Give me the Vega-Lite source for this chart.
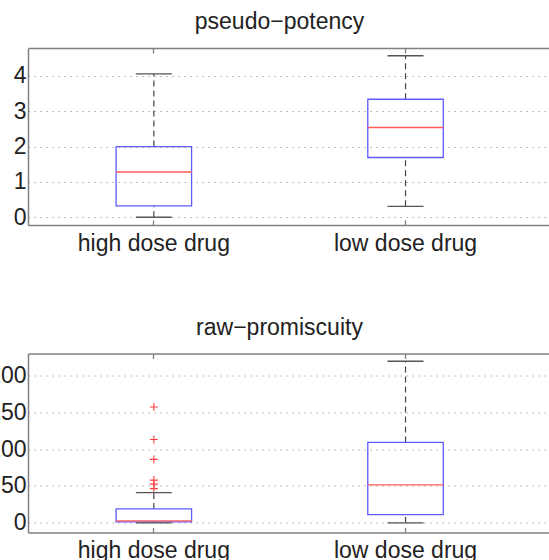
{
  "$schema": "https://vega.github.io/schema/vega-lite/v6.json",
  "padding": {"left": -13, "top": 11, "right": 0, "bottom": -2},
  "spacing": 61.5,
  "config": {
    "font": "Liberation Sans",
    "view": {"stroke": null},
    "axis": {
      "labelFont": "Liberation Sans",
      "labelFontSize": 23,
      "labelColor": "#222222",
      "domainColor": "#808080",
      "domainWidth": 1.5,
      "gridColor": "#aaaaaa",
      "gridDash": [1.5, 4.5],
      "gridWidth": 1,
      "tickColor": "#808080",
      "tickWidth": 1.3
    },
    "axisY": {"grid": true, "ticks": false, "labelPadding": 2, "domain": true},
    "axisX": {"grid": false, "ticks": true, "tickSize": -5, "labelPadding": 12, "domain": true, "labelAngle": 0},
    "title": {"font": "Liberation Sans", "fontSize": 23, "fontWeight": "normal", "color": "#222222", "offset": 13, "dx": -9, "frame": "group"}
  },
  "vconcat": [
    {
      "title": "pseudo−potency",
      "width": 521,
      "height": 177,
      "data": {"values": [
        {"group": "high dose drug", "lower": 0.0, "q1": 0.32, "median": 1.28, "q3": 2.0, "upper": 4.06},
        {"group": "low dose drug", "lower": 0.31, "q1": 1.69, "median": 2.54, "q3": 3.34, "upper": 4.57}
      ]},
      "resolve": {"axis": {"x": "independent"}},
      "layer": [
        {
          "mark": {"type": "rule", "color": "#444444", "strokeDash": [6, 4], "strokeWidth": 1.2},
          "encoding": {
            "x": {"field": "group", "type": "nominal", "title": null, "sort": null,
                  "scale": {"type": "band", "paddingInner": 0, "paddingOuter": 0.035, "align": 0},
                  "axis": {"orient": "bottom"}},
            "y": {"field": "q3", "type": "quantitative", "title": null,
                  "scale": {"domain": [-0.22, 4.79], "nice": false, "zero": false},
                  "axis": {"values": [0, 1, 2, 3, 4]}},
            "y2": {"field": "upper"}
          }
        },
        {
          "mark": {"type": "rule", "color": "#444444", "strokeDash": [6, 4], "strokeWidth": 1.2},
          "encoding": {
            "x": {"field": "group", "type": "nominal", "title": null, "sort": null,
                  "axis": {"orient": "top", "labels": false}},
            "y": {"field": "lower", "type": "quantitative", "title": null},
            "y2": {"field": "q1"}
          }
        },
        {
          "mark": {"type": "bar", "fillOpacity": 0, "stroke": "#5c5cff", "strokeWidth": 1.3, "width": {"band": 0.3}},
          "encoding": {
            "x": {"field": "group", "type": "nominal", "title": null, "sort": null, "axis": null},
            "y": {"field": "q1", "type": "quantitative", "title": null},
            "y2": {"field": "q3"}
          }
        },
        {
          "mark": {"type": "tick", "color": "#ff5a5a", "size": 76, "thickness": 1.3, "opacity": 1},
          "encoding": {
            "x": {"field": "group", "type": "nominal", "title": null, "sort": null, "axis": null},
            "y": {"field": "median", "type": "quantitative", "title": null}
          }
        },
        {
          "mark": {"type": "tick", "color": "#555555", "size": 36, "thickness": 1.3, "opacity": 1},
          "encoding": {
            "x": {"field": "group", "type": "nominal", "title": null, "sort": null, "axis": null},
            "y": {"field": "upper", "type": "quantitative", "title": null}
          }
        },
        {
          "mark": {"type": "tick", "color": "#555555", "size": 36, "thickness": 1.3, "opacity": 1},
          "encoding": {
            "x": {"field": "group", "type": "nominal", "title": null, "sort": null, "axis": null},
            "y": {"field": "lower", "type": "quantitative", "title": null}
          }
        }
      ]
    },
    {
      "title": "raw−promiscuity",
      "width": 521,
      "height": 179,
      "data": {"values": [
        {"group": "high dose drug", "lower": 0, "q1": 1.5, "median": 2.8, "q3": 19, "upper": 41},
        {"group": "low dose drug", "lower": 0, "q1": 11.3, "median": 51.5, "q3": 109, "upper": 219}
      ]},
      "resolve": {"axis": {"x": "independent"}},
      "layer": [
        {
          "mark": {"type": "rule", "color": "#444444", "strokeDash": [6, 4], "strokeWidth": 1.2},
          "encoding": {
            "x": {"field": "group", "type": "nominal", "title": null, "sort": null,
                  "scale": {"type": "band", "paddingInner": 0, "paddingOuter": 0.035, "align": 0},
                  "axis": {"orient": "bottom"}},
            "y": {"field": "q3", "type": "quantitative", "title": null,
                  "scale": {"domain": [-13, 229.5], "nice": false, "zero": false},
                  "axis": {"values": [0, 50, 100, 150, 200]}},
            "y2": {"field": "upper"}
          }
        },
        {
          "mark": {"type": "rule", "color": "#444444", "strokeDash": [6, 4], "strokeWidth": 1.2},
          "encoding": {
            "x": {"field": "group", "type": "nominal", "title": null, "sort": null,
                  "axis": {"orient": "top", "labels": false}},
            "y": {"field": "lower", "type": "quantitative", "title": null},
            "y2": {"field": "q1"}
          }
        },
        {
          "mark": {"type": "bar", "fillOpacity": 0, "stroke": "#5c5cff", "strokeWidth": 1.3, "width": {"band": 0.3}},
          "encoding": {
            "x": {"field": "group", "type": "nominal", "title": null, "sort": null, "axis": null},
            "y": {"field": "q1", "type": "quantitative", "title": null},
            "y2": {"field": "q3"}
          }
        },
        {
          "mark": {"type": "tick", "color": "#ff5a5a", "size": 76, "thickness": 1.3, "opacity": 1},
          "encoding": {
            "x": {"field": "group", "type": "nominal", "title": null, "sort": null, "axis": null},
            "y": {"field": "median", "type": "quantitative", "title": null}
          }
        },
        {
          "mark": {"type": "tick", "color": "#555555", "size": 36, "thickness": 1.3, "opacity": 1},
          "encoding": {
            "x": {"field": "group", "type": "nominal", "title": null, "sort": null, "axis": null},
            "y": {"field": "upper", "type": "quantitative", "title": null}
          }
        },
        {
          "mark": {"type": "tick", "color": "#555555", "size": 36, "thickness": 1.3, "opacity": 1},
          "encoding": {
            "x": {"field": "group", "type": "nominal", "title": null, "sort": null, "axis": null},
            "y": {"field": "lower", "type": "quantitative", "title": null}
          }
        },
        {
          "data": {"values": [
            {"group": "high dose drug", "value": 157},
            {"group": "high dose drug", "value": 113},
            {"group": "high dose drug", "value": 86},
            {"group": "high dose drug", "value": 58},
            {"group": "high dose drug", "value": 52.5},
            {"group": "high dose drug", "value": 46.5}
          ]},
          "mark": {"type": "point", "shape": "M-1,0H1M0,-1V1", "size": 64, "filled": false, "stroke": "#ff4040", "strokeWidth": 1.1, "opacity": 1},
          "encoding": {
            "x": {"field": "group", "type": "nominal", "title": null, "sort": null, "axis": null},
            "y": {"field": "value", "type": "quantitative", "title": null}
          }
        }
      ]
    }
  ]
}
